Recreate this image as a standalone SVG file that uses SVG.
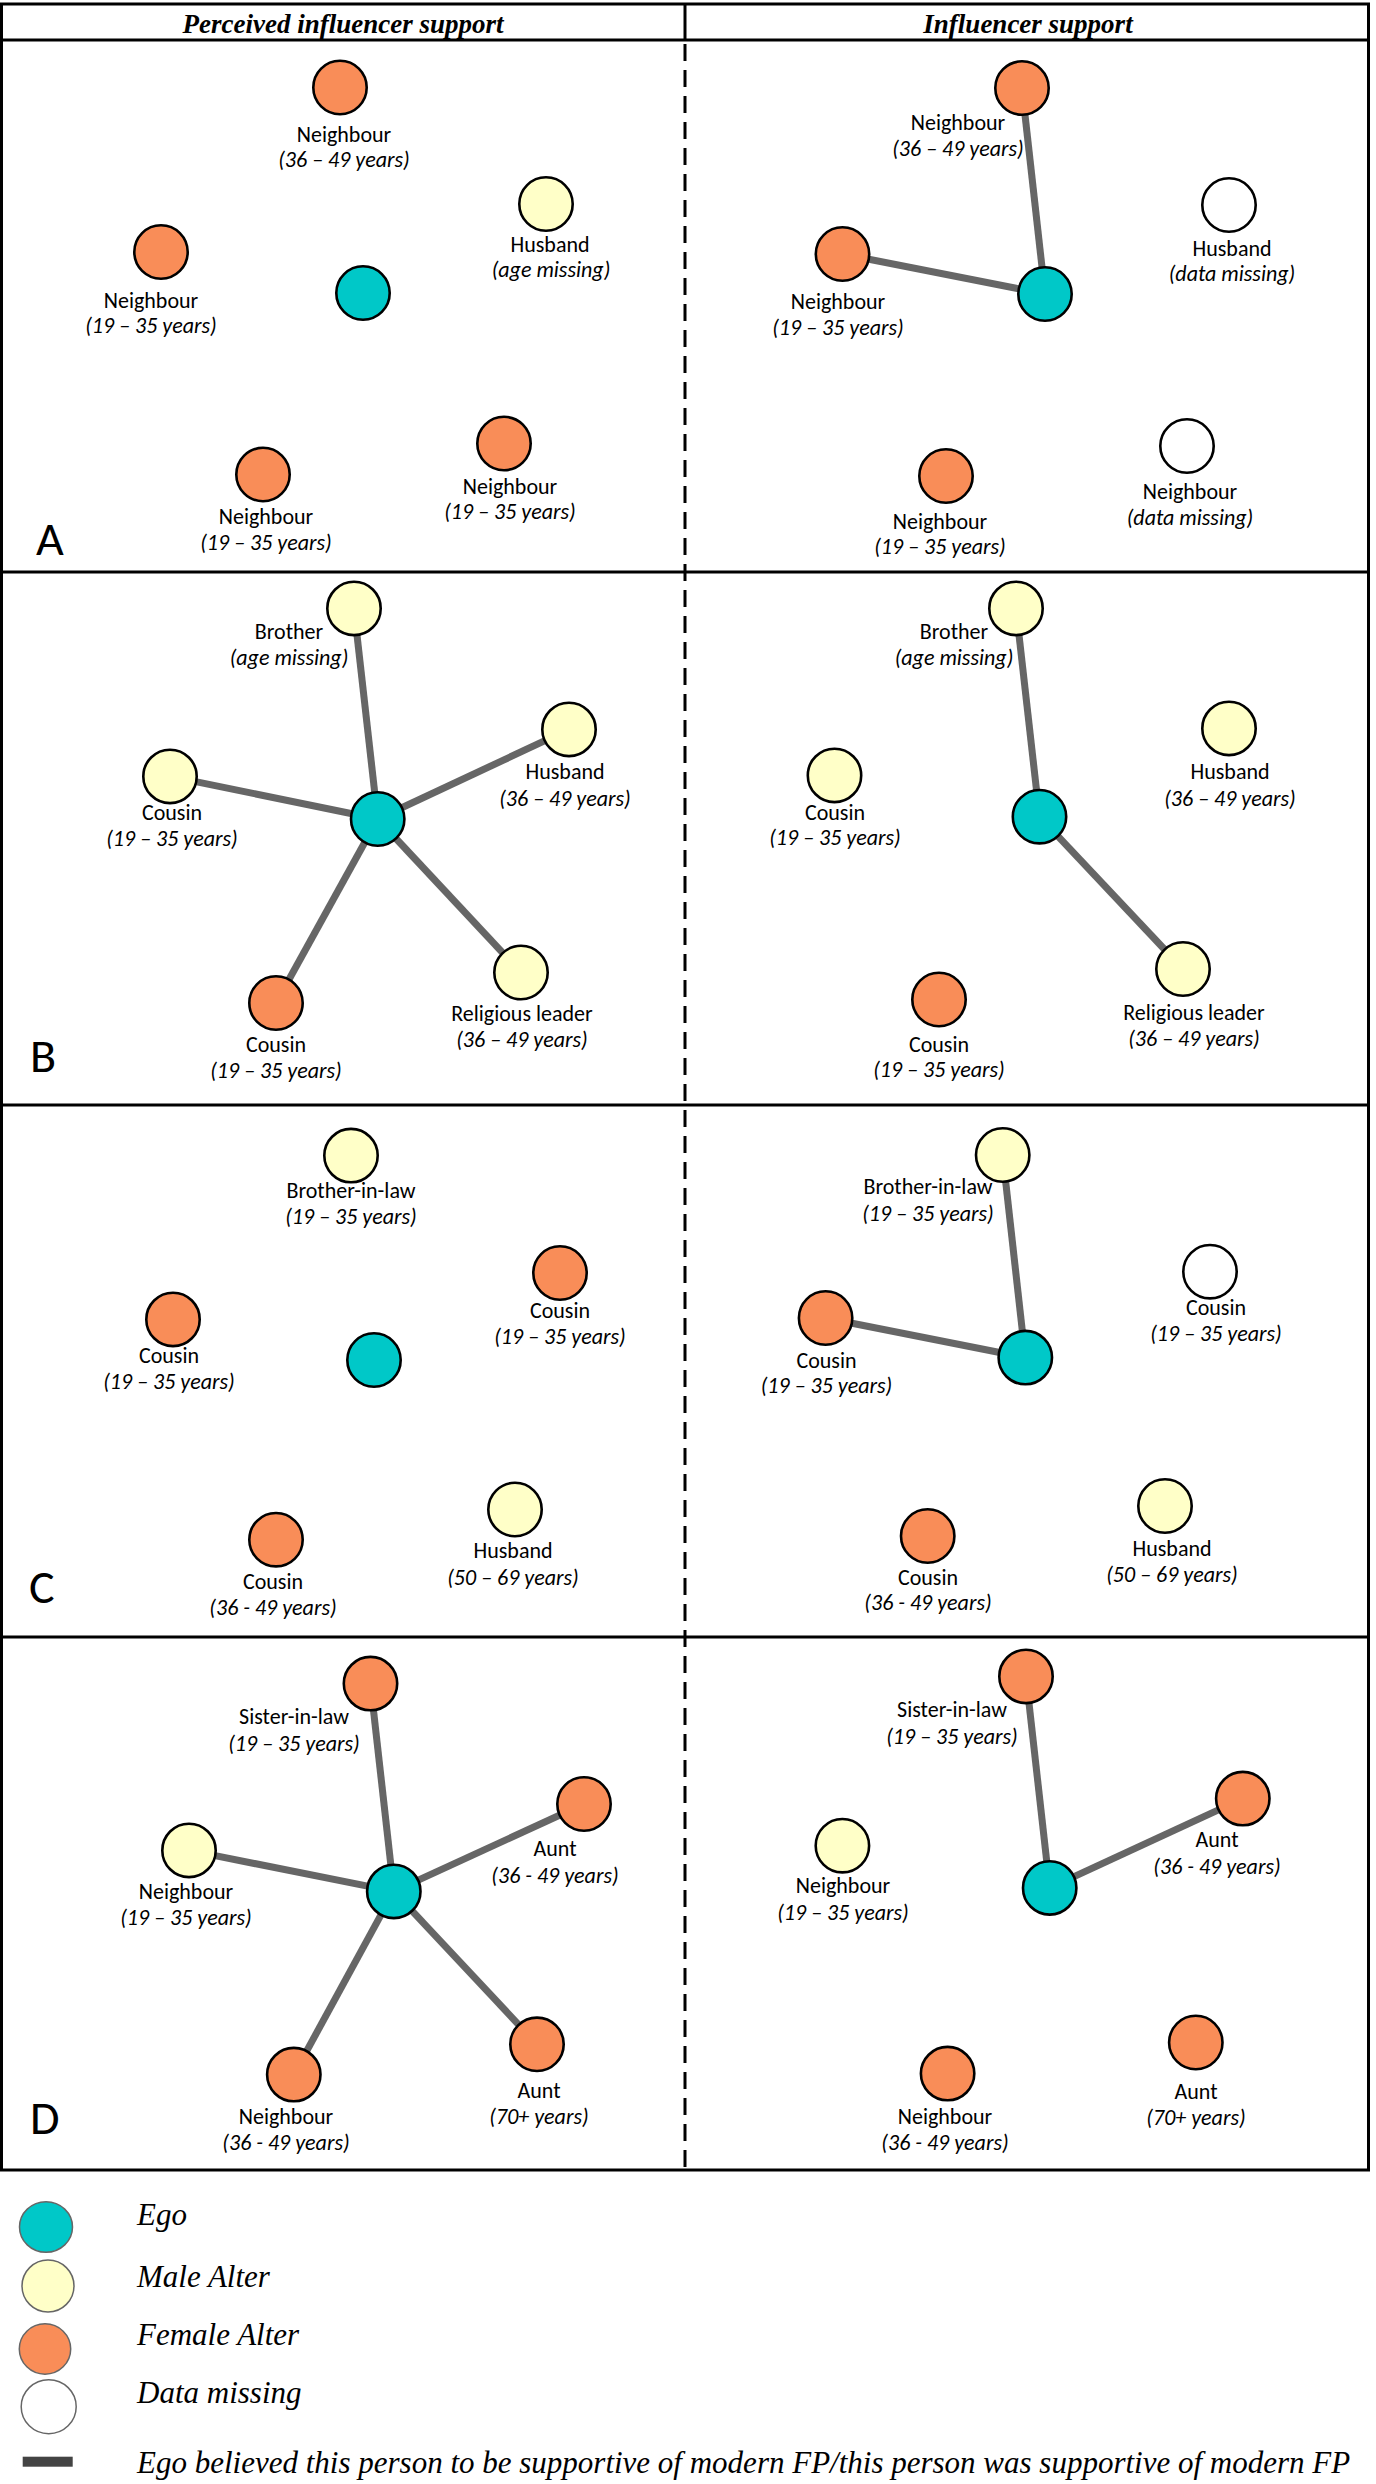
<svg xmlns="http://www.w3.org/2000/svg" width="1376" height="2484" viewBox="0 0 1376 2484">
<style>
.bg{fill:#fff}
.frame{fill:none;stroke:#000;stroke-width:3}
.dash{stroke:#000;stroke-width:3;stroke-dasharray:17 9}
.hdr{font-family:"Liberation Serif","Times New Roman",serif;font-weight:bold;font-style:italic;font-size:27px;text-anchor:middle}
.n{stroke:#000;stroke-width:2.6}
.ego{fill:#00C8C8}
.male{fill:#FFFFC8}
.female{fill:#F98D58}
.miss{fill:#FFFFFF}
.lb{font-family:"Carlito","Lato","Liberation Sans",sans-serif;font-size:22px;text-anchor:middle;fill:#000}
.ag{font-family:"Carlito","Lato","Liberation Sans",sans-serif;font-size:22px;font-style:italic;text-anchor:middle;fill:#000}
.pl{font-family:"Carlito","Lato","Liberation Sans",sans-serif;font-size:48px;fill:#000}
.e{stroke:#666;stroke-width:7;stroke-linecap:butt}
.lgn{stroke:#666;stroke-width:1.5}
.lt{font-family:"Liberation Serif","Times New Roman",serif;font-style:italic;font-size:31px;fill:#000}
</style>
<rect class="bg" x="0" y="0" width="1376" height="2484"/>

<g id="table">
<rect class="frame" x="1.5" y="4" width="1367" height="2166"/>
<line class="frame" x1="1.5" y1="40" x2="1368.5" y2="40"/>
<line class="frame" x1="1.5" y1="572" x2="1368.5" y2="572"/>
<line class="frame" x1="1.5" y1="1105" x2="1368.5" y2="1105"/>
<line class="frame" x1="1.5" y1="1637" x2="1368.5" y2="1637"/>
<line class="frame" x1="685" y1="4" x2="685" y2="40"/>
<line class="dash" x1="685" y1="44" x2="685" y2="2170"/>
<text class="hdr" x="343" y="33">Perceived influencer support</text>
<text class="hdr" x="1028" y="33">Influencer support</text>
<text class="pl" x="36" y="555">A</text>
<text class="pl" x="30" y="1072">B</text>
<text class="pl" x="29" y="1603">C</text>
<text class="pl" x="30" y="2134">D</text>
</g>

<g id="connectors">
<line class="e" x1="1045" y1="294" x2="1022" y2="88"/>
<line class="e" x1="1045" y1="294" x2="842.5" y2="254"/>
<line class="e" x1="377.7" y1="819" x2="354" y2="608.4"/>
<line class="e" x1="377.7" y1="819" x2="569" y2="729.4"/>
<line class="e" x1="377.7" y1="819" x2="170" y2="776.4"/>
<line class="e" x1="377.7" y1="819" x2="521" y2="972.5"/>
<line class="e" x1="377.7" y1="819" x2="276" y2="1003"/>
<line class="e" x1="1039.5" y1="816.7" x2="1016" y2="608.4"/>
<line class="e" x1="1039.5" y1="816.7" x2="1183" y2="969"/>
<line class="e" x1="1025.3" y1="1357.6" x2="1002.7" y2="1155"/>
<line class="e" x1="1025.3" y1="1357.6" x2="825.6" y2="1318"/>
<line class="e" x1="393.8" y1="1891.4" x2="370.5" y2="1683.6"/>
<line class="e" x1="393.8" y1="1891.4" x2="584" y2="1804"/>
<line class="e" x1="393.8" y1="1891.4" x2="189" y2="1850.4"/>
<line class="e" x1="393.8" y1="1891.4" x2="537" y2="2044.3"/>
<line class="e" x1="393.8" y1="1891.4" x2="293.8" y2="2074.6"/>
<line class="e" x1="1049.7" y1="1887.9" x2="1026" y2="1676.4"/>
<line class="e" x1="1049.7" y1="1887.9" x2="1242.8" y2="1798.6"/>
</g>

<!-- ===== Panel A left ===== -->
<g id="A-L-ego"><circle class="n ego" cx="363" cy="293" r="26.7"/></g>
<g id="A-L-neighbour1"><circle class="n female" cx="340" cy="87.5" r="26.7"/><text class="lb" x="344" y="141.5">Neighbour</text><text class="ag" x="344" y="167">(36 – 49 years)</text></g>
<g id="A-L-husband"><circle class="n male" cx="546" cy="204" r="26.7"/><text class="lb" x="550" y="252">Husband</text><text class="ag" x="551" y="277">(age missing)</text></g>
<g id="A-L-neighbour2"><circle class="n female" cx="161" cy="252" r="26.7"/><text class="lb" x="151" y="308">Neighbour</text><text class="ag" x="151" y="333">(19 – 35 years)</text></g>
<g id="A-L-neighbour3"><circle class="n female" cx="263" cy="474.5" r="26.7"/><text class="lb" x="266" y="524">Neighbour</text><text class="ag" x="266" y="550">(19 – 35 years)</text></g>
<g id="A-L-neighbour4"><circle class="n female" cx="504" cy="443.5" r="26.7"/><text class="lb" x="510" y="493.5">Neighbour</text><text class="ag" x="510" y="519">(19 – 35 years)</text></g>

<!-- ===== Panel A right ===== -->
<g id="A-R-ego"><circle class="n ego" cx="1045" cy="294" r="26.7"/></g>
<g id="A-R-neighbour1"><circle class="n female" cx="1022" cy="88" r="26.7"/><text class="lb" x="958" y="130">Neighbour</text><text class="ag" x="958" y="156">(36 – 49 years)</text></g>
<g id="A-R-husband"><circle class="n miss" cx="1229" cy="205" r="26.7"/><text class="lb" x="1232" y="255.5">Husband</text><text class="ag" x="1232" y="281">(data missing)</text></g>
<g id="A-R-neighbour2"><circle class="n female" cx="842.5" cy="254" r="26.7"/><text class="lb" x="838" y="309">Neighbour</text><text class="ag" x="838" y="335">(19 – 35 years)</text></g>
<g id="A-R-neighbour3"><circle class="n female" cx="946" cy="476" r="26.7"/><text class="lb" x="940" y="529">Neighbour</text><text class="ag" x="940" y="554">(19 – 35 years)</text></g>
<g id="A-R-neighbour4"><circle class="n miss" cx="1187" cy="446" r="26.7"/><text class="lb" x="1190" y="499">Neighbour</text><text class="ag" x="1190" y="525">(data missing)</text></g>

<!-- ===== Panel B left ===== -->
<g id="B-L-ego"><circle class="n ego" cx="377.7" cy="819" r="26.7"/></g>
<g id="B-L-brother"><circle class="n male" cx="354" cy="608.4" r="26.7"/><text class="lb" x="289" y="639">Brother</text><text class="ag" x="289" y="664.5">(age missing)</text></g>
<g id="B-L-husband"><circle class="n male" cx="569" cy="729.4" r="26.7"/><text class="lb" x="565" y="779">Husband</text><text class="ag" x="565" y="805.5">(36 – 49 years)</text></g>
<g id="B-L-cousin1"><circle class="n male" cx="170" cy="776.4" r="26.7"/><text class="lb" x="172" y="820">Cousin</text><text class="ag" x="172" y="846">(19 – 35 years)</text></g>
<g id="B-L-religious"><circle class="n male" cx="521" cy="972.5" r="26.7"/><text class="lb" x="522" y="1021">Religious leader</text><text class="ag" x="522" y="1047">(36 – 49 years)</text></g>
<g id="B-L-cousin2"><circle class="n female" cx="276" cy="1003" r="26.7"/><text class="lb" x="276" y="1052">Cousin</text><text class="ag" x="276" y="1078">(19 – 35 years)</text></g>

<!-- ===== Panel B right ===== -->
<g id="B-R-ego"><circle class="n ego" cx="1039.5" cy="816.7" r="26.7"/></g>
<g id="B-R-brother"><circle class="n male" cx="1016" cy="608.4" r="26.7"/><text class="lb" x="954" y="639">Brother</text><text class="ag" x="954" y="664.5">(age missing)</text></g>
<g id="B-R-husband"><circle class="n male" cx="1229" cy="728.4" r="26.7"/><text class="lb" x="1230" y="779">Husband</text><text class="ag" x="1230" y="805.5">(36 – 49 years)</text></g>
<g id="B-R-cousin1"><circle class="n male" cx="834.5" cy="775.4" r="26.7"/><text class="lb" x="835" y="819.6">Cousin</text><text class="ag" x="835" y="845">(19 – 35 years)</text></g>
<g id="B-R-religious"><circle class="n male" cx="1183" cy="969" r="26.7"/><text class="lb" x="1194" y="1020">Religious leader</text><text class="ag" x="1194" y="1046">(36 – 49 years)</text></g>
<g id="B-R-cousin2"><circle class="n female" cx="939" cy="999.5" r="26.7"/><text class="lb" x="939" y="1051.7">Cousin</text><text class="ag" x="939" y="1077">(19 – 35 years)</text></g>

<!-- ===== Panel C left ===== -->
<g id="C-L-ego"><circle class="n ego" cx="374" cy="1360" r="26.7"/></g>
<g id="C-L-brotherinlaw"><circle class="n male" cx="351" cy="1155.6" r="26.7"/><text class="lb" x="351" y="1198">Brother-in-law</text><text class="ag" x="351" y="1224.3">(19 – 35 years)</text></g>
<g id="C-L-cousin1"><circle class="n female" cx="560" cy="1273" r="26.7"/><text class="lb" x="560" y="1318">Cousin</text><text class="ag" x="560" y="1344">(19 – 35 years)</text></g>
<g id="C-L-cousin2"><circle class="n female" cx="173" cy="1319.4" r="26.7"/><text class="lb" x="169" y="1362.5">Cousin</text><text class="ag" x="169" y="1389">(19 – 35 years)</text></g>
<g id="C-L-husband"><circle class="n male" cx="515" cy="1509.5" r="26.7"/><text class="lb" x="513" y="1558">Husband</text><text class="ag" x="513" y="1584.6">(50 – 69 years)</text></g>
<g id="C-L-cousin3"><circle class="n female" cx="276" cy="1539.7" r="26.7"/><text class="lb" x="273" y="1588.8">Cousin</text><text class="ag" x="273" y="1615">(36 - 49 years)</text></g>

<!-- ===== Panel C right ===== -->
<g id="C-R-ego"><circle class="n ego" cx="1025.3" cy="1357.6" r="26.7"/></g>
<g id="C-R-brotherinlaw"><circle class="n male" cx="1002.7" cy="1155" r="26.7"/><text class="lb" x="928" y="1194">Brother-in-law</text><text class="ag" x="928" y="1220.5">(19 – 35 years)</text></g>
<g id="C-R-cousin1"><circle class="n miss" cx="1210" cy="1271.7" r="26.7"/><text class="lb" x="1216" y="1315">Cousin</text><text class="ag" x="1216" y="1340.8">(19 – 35 years)</text></g>
<g id="C-R-cousin2"><circle class="n female" cx="825.6" cy="1318" r="26.7"/><text class="lb" x="826.5" y="1367.8">Cousin</text><text class="ag" x="826.5" y="1393.4">(19 – 35 years)</text></g>
<g id="C-R-husband"><circle class="n male" cx="1165" cy="1506" r="26.7"/><text class="lb" x="1172" y="1555.8">Husband</text><text class="ag" x="1172" y="1581.8">(50 – 69 years)</text></g>
<g id="C-R-cousin3"><circle class="n female" cx="927.7" cy="1536" r="26.7"/><text class="lb" x="928" y="1584.6">Cousin</text><text class="ag" x="928" y="1610">(36 - 49 years)</text></g>

<!-- ===== Panel D left ===== -->
<g id="D-L-ego"><circle class="n ego" cx="393.8" cy="1891.4" r="26.7"/></g>
<g id="D-L-sisterinlaw"><circle class="n female" cx="370.5" cy="1683.6" r="26.7"/><text class="lb" x="294" y="1724.3">Sister-in-law</text><text class="ag" x="294" y="1751.4">(19 – 35 years)</text></g>
<g id="D-L-aunt1"><circle class="n female" cx="584" cy="1804" r="26.7"/><text class="lb" x="555" y="1855.7">Aunt</text><text class="ag" x="555" y="1882.5">(36 - 49 years)</text></g>
<g id="D-L-neighbour1"><circle class="n male" cx="189" cy="1850.4" r="26.7"/><text class="lb" x="186" y="1898.6">Neighbour</text><text class="ag" x="186" y="1925">(19 – 35 years)</text></g>
<g id="D-L-aunt2"><circle class="n female" cx="537" cy="2044.3" r="26.7"/><text class="lb" x="539" y="2097.9">Aunt</text><text class="ag" x="539" y="2124.3">(70+ years)</text></g>
<g id="D-L-neighbour2"><circle class="n female" cx="293.8" cy="2074.6" r="26.7"/><text class="lb" x="286" y="2123.6">Neighbour</text><text class="ag" x="286" y="2150">(36 - 49 years)</text></g>

<!-- ===== Panel D right ===== -->
<g id="D-R-ego"><circle class="n ego" cx="1049.7" cy="1887.9" r="26.7"/></g>
<g id="D-R-sisterinlaw"><circle class="n female" cx="1026" cy="1676.4" r="26.7"/><text class="lb" x="952" y="1717">Sister-in-law</text><text class="ag" x="952" y="1744">(19 – 35 years)</text></g>
<g id="D-R-aunt1"><circle class="n female" cx="1242.8" cy="1798.6" r="26.7"/><text class="lb" x="1217" y="1846.8">Aunt</text><text class="ag" x="1217" y="1873.6">(36 - 49 years)</text></g>
<g id="D-R-neighbour1"><circle class="n male" cx="842.4" cy="1845.7" r="26.7"/><text class="lb" x="843" y="1893">Neighbour</text><text class="ag" x="843" y="1920">(19 – 35 years)</text></g>
<g id="D-R-aunt2"><circle class="n female" cx="1195.8" cy="2042.5" r="26.7"/><text class="lb" x="1196" y="2098.6">Aunt</text><text class="ag" x="1196" y="2124.6">(70+ years)</text></g>
<g id="D-R-neighbour2"><circle class="n female" cx="947.6" cy="2073.6" r="26.7"/><text class="lb" x="945" y="2123.6">Neighbour</text><text class="ag" x="945" y="2150">(36 - 49 years)</text></g>

<!-- ===== Legend ===== -->
<g id="legend">
<g id="legend-ego"><ellipse class="lgn ego" cx="46" cy="2227" rx="26.5" ry="25.3"/><text class="lt" x="137" y="2225">Ego</text></g>
<g id="legend-male"><ellipse class="lgn male" cx="48" cy="2286" rx="26" ry="26"/><text class="lt" x="137" y="2286.7">Male Alter</text></g>
<g id="legend-female"><ellipse class="lgn female" cx="45" cy="2349" rx="25.7" ry="25.2"/><text class="lt" x="137" y="2345">Female Alter</text></g>
<g id="legend-missing"><ellipse class="lgn miss" cx="48.7" cy="2406.7" rx="27.5" ry="27"/><text class="lt" x="137" y="2402.7">Data missing</text></g>
<g id="legend-edge"><rect x="22.7" y="2456.7" width="50" height="10" fill="#444"/><text class="lt" x="137" y="2473">Ego believed this person to be supportive of modern FP/this person was supportive of modern FP</text></g>
</g>
</svg>
